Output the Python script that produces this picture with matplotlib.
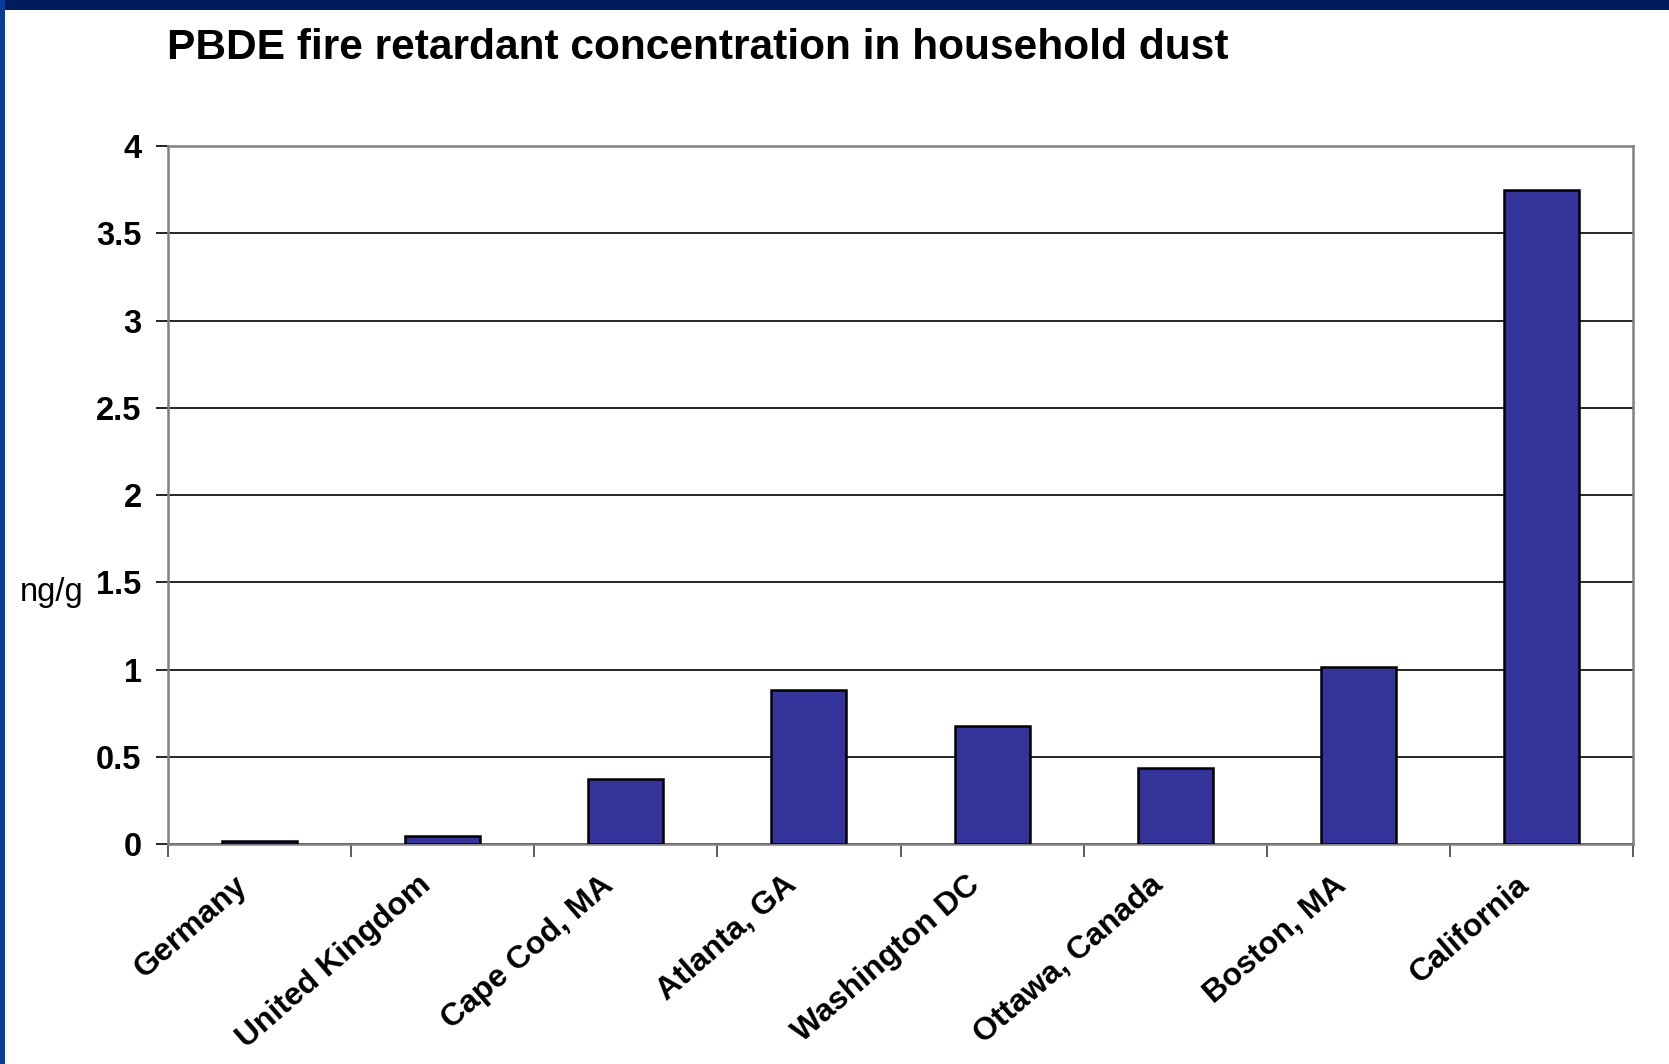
import matplotlib
matplotlib.use("Agg")
import matplotlib.pyplot as plt
import matplotlib.transforms as mtransforms
from matplotlib.patches import Rectangle

# data
locations = ["Germany", "United Kingdom", "Cape Cod, MA", "Atlanta, GA",
             "Washington DC", "Ottawa, Canada", "Boston, MA", "California"]
conc = [0.018, 0.045, 0.372, 0.884, 0.677, 0.433, 1.012, 3.75]
yticks = [0, 0.5, 1, 1.5, 2, 2.5, 3, 3.5, 4]
ytick_labels = ["0", "0.5", "1", "1.5", "2", "2.5", "3", "3.5", "4"]

plt.rcParams['font.family'] = ['Liberation Sans', 'DejaVu Sans']

fig = plt.figure(figsize=(16.69, 10.64), dpi=100)
fig.patch.set_facecolor("white")

# slide frame: navy band on top, blue strip on left
fig.patches.append(Rectangle((0, 1 - 10 / 1064), 1, 10 / 1064, transform=fig.transFigure,
                             facecolor="#001c5a", edgecolor="none", zorder=0))
fig.patches.append(Rectangle((0, 0), 5 / 1669, 1, transform=fig.transFigure,
                             facecolor="#0a3a9a", edgecolor="none", zorder=0))

ax = fig.add_axes([168 / 1669, 220 / 1064, 1465 / 1669, 698 / 1064])
x = range(len(locations))
ax.bar(x, conc, width=0.41, color="#333399", edgecolor="black", linewidth=1.8, zorder=3)

ax.set_xlim(-0.5, len(locations) - 0.5)
ax.set_ylim(0, 4)
ax.set_yticks(yticks)
ax.set_yticklabels(ytick_labels, fontsize=23.5, fontweight="bold")
ax.yaxis.grid(True, color="black", linewidth=1.2, zorder=0)

ax.set_xticks(list(x))
ax.set_xticklabels(locations, rotation=41, ha="right", va="center",
                   rotation_mode="anchor", fontsize=23, fontweight="bold")
ax.tick_params(axis="x", length=0, pad=27)
shift = mtransforms.ScaledTranslation(-16 / 100, 0, fig.dpi_scale_trans)
for lbl in ax.get_xticklabels():
    lbl.set_transform(lbl.get_transform() + shift)
ax.set_xticks([i + 0.5 for i in range(-1, len(locations))], minor=True)
ax.tick_params(axis="x", which="minor", length=9, width=1.2, color="#404040")
ax.tick_params(axis="y", length=9, width=1.2, pad=10)

for s in ax.spines.values():
    s.set_color("#808080")
    s.set_linewidth(1.8)

fig.text(20 / 1669, 1 - 593 / 1064, "ng/g", fontsize=23.5, va="center", ha="left")
fig.text(167 / 1669, 1 - 48 / 1064, "PBDE fire retardant concentration in household dust",
         fontsize=30.6, fontweight="bold", va="center", ha="left")

fig.savefig("out.png", dpi=100)
